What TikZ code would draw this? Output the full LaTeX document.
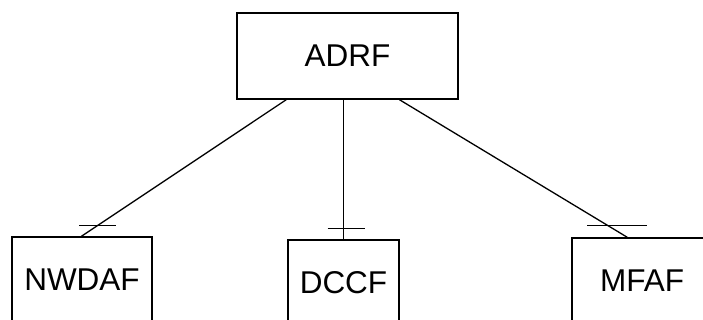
\documentclass[tikz,border=0pt]{standalone}
\usepackage{fontspec}
\setmainfont{Liberation Sans}
\usetikzlibrary{calc}
\begin{document}
\begin{tikzpicture}[x=1pt,y=1pt,
  nf/.style={draw, line width=1.3pt, inner sep=0pt, minimum height=86pt,
    font=\fontsize{31.5}{38}\selectfont},
  link/.style={line width=1.3pt}]
\useasboundingbox (0,0) rectangle (703,320);
\clip (0,0) rectangle (703,320);
\node[nf, minimum width=221pt] (adrf) at (347.5,264) {ADRF};
\node[nf, minimum width=111pt] (dccf) at (343.5,37) {DCCF};
\node[nf, minimum width=140pt] (nwdaf) at (82,40) {NWDAF};
\node[nf, minimum width=140pt] (mfaf) at (642,39) {MFAF};
\draw[link] ([xshift=50pt]adrf.south west) -- ([xshift=70pt]nwdaf.north west);
\draw[link] (adrf.south -| dccf.north) -- (dccf.north);
\draw[link] ([xshift=163pt]adrf.south west) -- ([xshift=56pt]mfaf.north west);
\draw[link] ($(nwdaf.north west)+(68,11)$) -- ($(nwdaf.north west)+(105,11)$);
\draw[link] ($(dccf.north)+(-16,11)$) -- ($(dccf.north)+(21,11)$);
\draw[link] ($(mfaf.north west)+(16,12)$) -- ($(mfaf.north west)+(76,12)$);
\end{tikzpicture}
\end{document}
